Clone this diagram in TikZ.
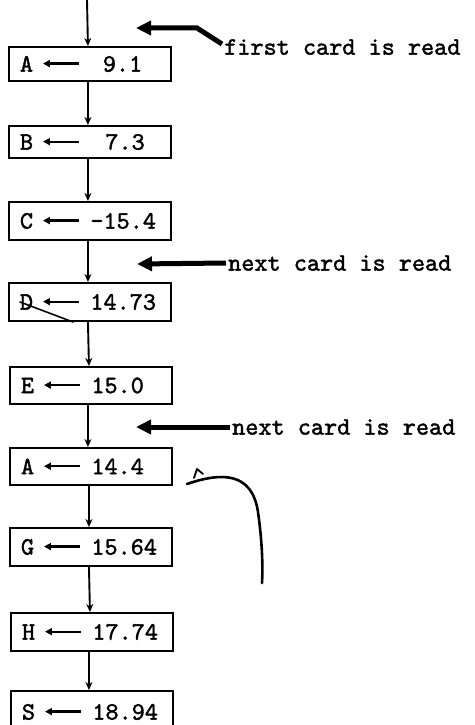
\documentclass[tikz,border=0pt]{standalone}
\usepackage{fontspec}
\usetikzlibrary{arrows.meta}
% typewriter face, slightly emboldened
\newfontfamily\typer{lmmono10-regular.otf}[FakeBold=1.6]
% left arrow used inside the boxes
\newcommand{\assignarrow}{\tikz[baseline=-0.32em]\draw[line width=2.3pt,-{Triangle[length=7pt,width=7pt]}] (1.45em,0pt) -- (0pt,0pt);}
% one assignment: variable, left arrow, value
\newcommand{\asg}[2]{#1\hspace{0.35em}\assignarrow\hspace{0.4em}#2}
\begin{document}
\begin{tikzpicture}[x=1pt,y=-1pt,
  every node/.style={font=\typer\fontsize{25}{27}\selectfont},
  asgbox/.style={draw, line width=1.9pt, minimum width=162pt, minimum height=37pt,
    inner xsep=11pt, inner ysep=0pt, text width=140pt, align=left, anchor=north west},
  flow/.style={line width=1.9pt, -{Stealth[length=8pt,width=7pt]}},
  cardarrow/.style={line width=5pt, -{Triangle[length=15pt,width=14pt]}},
  note/.style={anchor=west, inner sep=0pt},
  scrawl/.style={line width=2.6pt, line cap=round, line join=round}]
\fill[white] (0,0) rectangle (474,725);
\useasboundingbox (0,0) rectangle (474,725);

% the assignment boxes, one under the other
\node[asgbox, minimum height=34pt] (b1) at (8,46)  {\asg{A}{\hspace{0.5em}9.1}};
\node[asgbox, minimum height=32pt] (b2) at (8,125) {\asg{B}{\hspace{0.6em}7.3}};
\node[asgbox, minimum height=38pt] (b3) at (8,201) {\asg{C}{-15.4}};
\node[asgbox, minimum height=38pt] (b4) at (8,282) {\asg{D}{14.73}};
\node[asgbox] (b5) at (9,366) {\asg{E}{15.0}};
\node[asgbox] (b6) at (9,447) {\asg{A}{14.4}};
\node[asgbox, minimum height=38pt] (b7) at (9,527) {\asg{G}{15.64}};
\node[asgbox, minimum height=38pt] (b8) at (10,612) {\asg{H}{17.74}};
\node[asgbox, minimum height=42pt] (b9) at (10,690) {\asg{S}{18.94}};

% flow line through the boxes
\coordinate (entry) at (87,0);
\draw[flow] (entry) -- ([xshift=-2pt]b1.north);
\draw[flow] ([xshift=-2pt]b1.south) -- ([xshift=-2pt]b2.north);
\draw[flow] ([xshift=-2pt]b2.south) -- ([xshift=-2pt]b3.north);
\draw[flow] ([xshift=-2pt]b3.south) -- ([xshift=-2pt]b4.north);
\draw[flow] ([xshift=-2pt]b4.south) -- ([xshift=-2pt]b5.north);
\draw[flow] ([xshift=-3pt]b5.south) -- ([xshift=-3pt]b6.north);
\draw[flow] ([xshift=-2pt]b6.south) -- ([xshift=-2pt]b7.north);
\draw[flow] ([xshift=-2pt]b7.south) -- ([xshift=-2pt]b8.north);
\draw[flow] ([xshift=-3pt]b8.south) -- ([xshift=-3pt]b9.north);

% card reading notes
\node[note] (n1) at (224,47)  {first card is read};
\node[note] (n2) at (228,263) {next card is read};
\node[note] (n3) at (232,427) {next card is read};
\coordinate (k1) at (197,28);
\coordinate (p1) at (136,28);
\coordinate (p2) at (137,264);
\coordinate (p3) at (136,427);
\draw[cardarrow] ([shift={(-2,-3)}]n1.west) -- (k1) -- (p1);
\draw[cardarrow] ([xshift=-2pt]n2.west) -- (p2);
\draw[cardarrow] ([xshift=-2pt]n3.west) -- (p3);

% pencil marks
\draw[line width=1.6pt, line cap=round] (20,302) -- (73,322);
\draw[scrawl] (187,484) .. controls (222,472) and (252,472) .. (258,512)
  .. controls (262,540) and (263,565) .. (262,583);
\draw[line width=1.8pt, line cap=round, line join=round] (194,478) -- (197,469) -- (203,474);
\end{tikzpicture}
\end{document}
